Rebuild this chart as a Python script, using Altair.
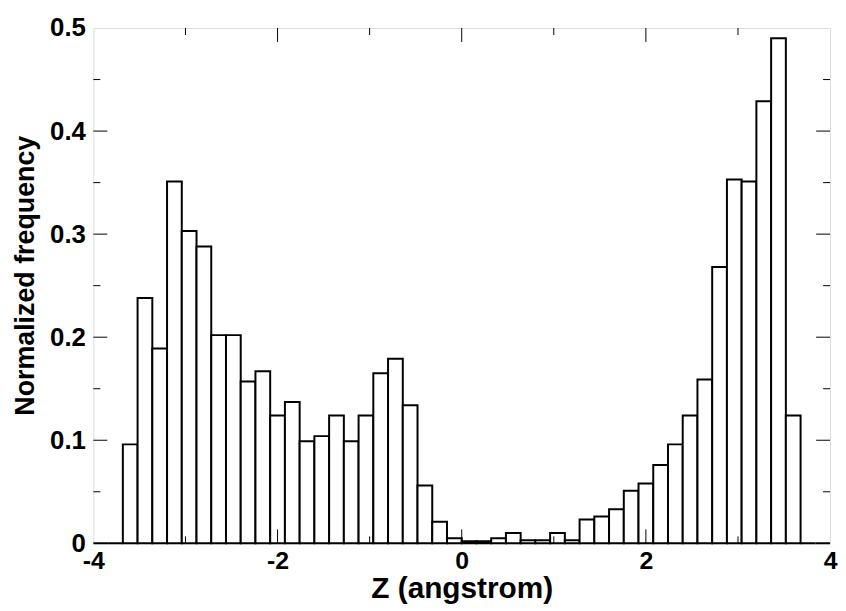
import altair as alt
import pandas as pd

# Histogram bins (left edges, width 0.16) and normalized frequencies
bin_left = [-4.00, -3.84, -3.68, -3.52, -3.36, -3.20, -3.04, -2.88, -2.72, -2.56,
            -2.40, -2.24, -2.08, -1.92, -1.76, -1.60, -1.44, -1.28, -1.12, -0.96,
            -0.80, -0.64, -0.48, -0.32, -0.16, 0.00, 0.16, 0.32, 0.48, 0.64,
            0.80, 0.96, 1.12, 1.28, 1.44, 1.60, 1.76, 1.92, 2.08, 2.24,
            2.40, 2.56, 2.72, 2.88, 3.04, 3.20, 3.36, 3.52, 3.68, 3.84]
bin_width = 0.16
freq = [0.0, 0.0, 0.096, 0.238, 0.189, 0.351, 0.303, 0.288, 0.202, 0.202,
        0.157, 0.167, 0.124, 0.137, 0.099, 0.104, 0.124, 0.099, 0.124, 0.165,
        0.179, 0.134, 0.056, 0.021, 0.005, 0.002, 0.002, 0.005, 0.010, 0.003,
        0.003, 0.010, 0.003, 0.023, 0.026, 0.033, 0.051, 0.058, 0.076, 0.096,
        0.124, 0.159, 0.268, 0.353, 0.351, 0.429, 0.490, 0.124, 0.0, 0.0]

x_labels = [-4, -2, 0, 2, 4]
x_major_ticks = [-2, 0, 2]
x_minor_ticks = [-3, -1, 1, 3]
y_labels = [0, 0.1, 0.2, 0.3, 0.4, 0.5]
y_major_ticks = [0.1, 0.2, 0.3, 0.4]
y_minor_ticks = [0.05, 0.15, 0.25, 0.35, 0.45]

W, H = 742, 519
FONT = "Liberation Sans"

df = pd.DataFrame({
    "x0": bin_left,
    "x1": [b + bin_width for b in bin_left],
    "f": freq,
    "base": [0.0] * len(freq),
})

xs = alt.Scale(domain=[-4, 4], nice=False, zero=False)
ys = alt.Scale(domain=[0, 0.5], nice=False, zero=False)

bars = alt.Chart(df).mark_bar(fill="white", stroke="black", strokeWidth=2).encode(
    x=alt.X("x0:Q", scale=xs, axis=alt.Axis(
        values=x_labels, ticks=False, domain=False, grid=False,
        labelExpr="datum.value + ''", labelFont=FONT, labelFontWeight="bold",
        labelFontSize=25, labelColor="black", labelPadding=5,
        labelFlush=False, labelOverlap=False, labelBound=False,
        title="Z (angstrom)", titleFont=FONT, titleFontWeight="bold",
        titleFontSize=30, titleColor="black", titleX=W / 2, titleY=55,
        titleBaseline="alphabetic", titleAlign="center")),
    x2="x1:Q",
    y=alt.Y("f:Q", scale=ys, axis=alt.Axis(
        values=y_labels, ticks=False, domain=False, grid=False,
        labelExpr="datum.value == 0 ? '0' : format(datum.value, '.1f')",
        labelFont=FONT, labelFontWeight="bold", labelFontSize=26,
        labelColor="black", labelPadding=8, labelOverlap=False, labelBound=False,
        title="Normalized frequency", titleFont=FONT, titleFontWeight="bold",
        titleFontSize=27, titleColor="black", titleAngle=270, titleX=-60,
        titleY=249, titleBaseline="alphabetic", titleAlign="center")),
    y2="base:Q",
)

def yticks(vals, length):
    d = pd.DataFrame({"v": vals})
    left = alt.Chart(d).mark_rule(color="black", strokeWidth=1).encode(
        y=alt.Y("v:Q", scale=ys), x=alt.value(0), x2=alt.value(length))
    right = alt.Chart(d).mark_rule(color="black", strokeWidth=1).encode(
        y=alt.Y("v:Q", scale=ys), x=alt.value(W - length), x2=alt.value(W))
    return [left, right]

def xticks(vals, length):
    d = pd.DataFrame({"v": vals})
    bottom = alt.Chart(d).mark_rule(color="black", strokeWidth=1).encode(
        x=alt.X("v:Q", scale=xs), y=alt.value(H - length), y2=alt.value(H))
    top = alt.Chart(d).mark_rule(color="black", strokeWidth=1).encode(
        x=alt.X("v:Q", scale=xs), y=alt.value(0), y2=alt.value(length))
    return [bottom, top]

layers = [bars] + yticks(y_major_ticks, 14) + yticks(y_minor_ticks, 7) \
    + xticks(x_major_ticks, 14) + xticks(x_minor_ticks, 7)

chart = alt.layer(*layers).properties(
    width=W, height=H,
    autosize=alt.AutoSizeParams(type="none"),
    padding={"left": 86, "top": 18, "right": 8, "bottom": 64},
).configure_view(stroke="black", strokeWidth=1.3).configure(background="white")

chart.save("out.html", embed_options={"renderer": "svg", "actions": False})
